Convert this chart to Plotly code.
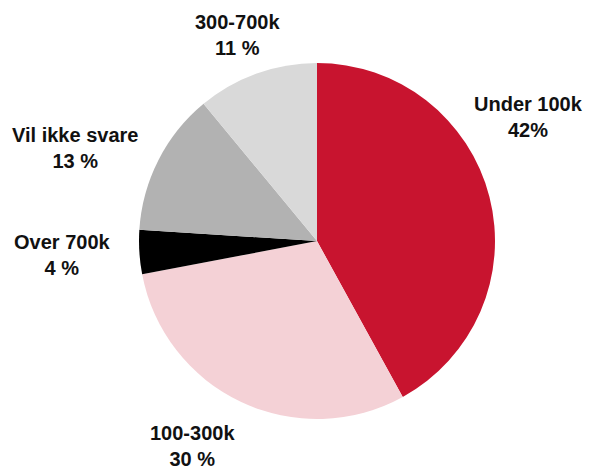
import plotly.graph_objects as go

labels = ['Under 100k', '100-300k', 'Over 700k', 'Vil ikke svare', '300-700k']
values = [42, 30, 4, 13, 11]
value_text = ['42%', '30 %', '4 %', '13 %', '11 %']
colors = ['#C8142F', '#F4D1D6', '#000000', '#B2B2B2', '#D9D9D9']

# label spots in pixels (x from left, y from top), placed by hand like the original
label_pos = [(528, 117), (193, 446), (62, 255), (75, 148), (237, 35)]

W, H = 597, 469
off = 8  # page body margin pushes the figure 8px right/down
cx, cy, r = 317 - off, 241 - off, 178

fig = go.Figure()
fig.add_trace(go.Pie(
    labels=labels,
    values=values,
    sort=False,
    direction='clockwise',
    rotation=0,
    marker=dict(colors=colors, line=dict(width=0)),
    textinfo='none',
    hoverinfo='label+percent',
    showlegend=False,
    domain=dict(x=[(cx - r) / W, (cx + r) / W],
                y=[(H - cy - r) / H, (H - cy + r) / H]),
))

for name, txt, (px, py) in zip(labels, value_text, label_pos):
    fig.add_annotation(
        x=(px - off) / W, y=1 - (py - off) / H, xref='paper', yref='paper',
        text='<b>%s<br>%s</b>' % (name, txt),
        showarrow=False, align='center',
        xanchor='center', yanchor='middle',
        font=dict(family='Liberation Sans, Arial, sans-serif', size=20, color='#111111'),
    )

fig.update_layout(
    width=W, height=H,
    margin=dict(l=0, r=0, t=0, b=0),
    paper_bgcolor='white',
    plot_bgcolor='white',
)
fig.write_html("out.html")
